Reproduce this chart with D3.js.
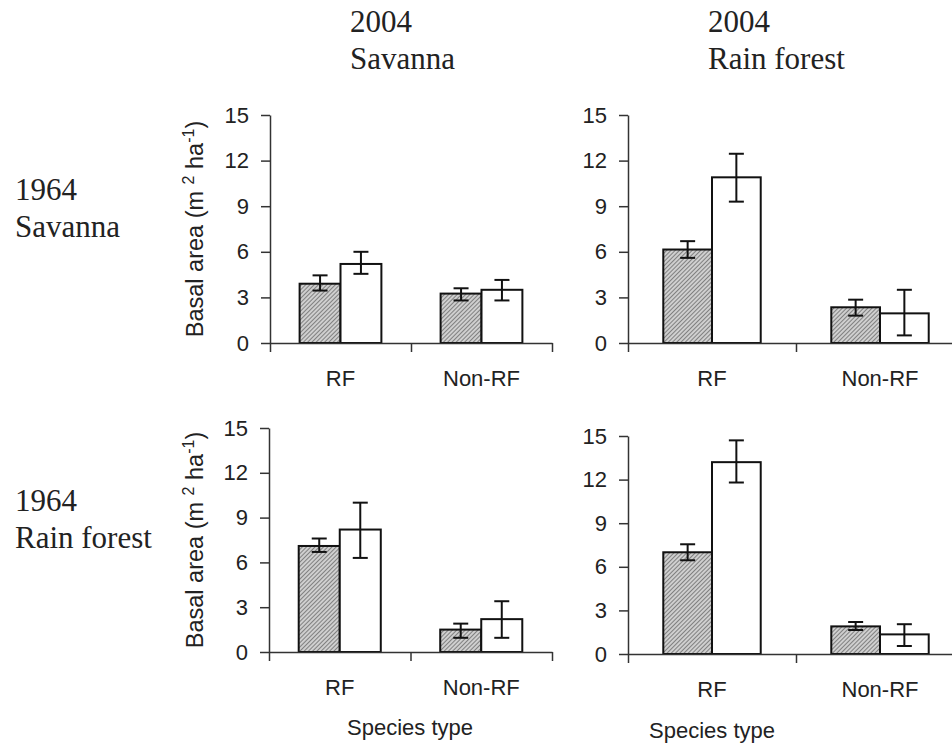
<!DOCTYPE html>
<html>
<head>
<meta charset="utf-8">
<script src="https://cdn.jsdelivr.net/npm/d3@7"></script>
<style>
  body { margin: 0; background: #fff; }
  .tick text { font-family: "Liberation Sans", Arial, sans-serif; font-size: 22px; fill: #222; }
  .tick line, .domain { stroke: #333; stroke-width: 1.5; }
  .serif { font-family: "Liberation Serif", "Times New Roman", serif; font-size: 31px; fill: #222; }
  .sans { font-family: "Liberation Sans", Arial, sans-serif; fill: #222; }
</style>
</head>
<body>
<div id="chart"></div>
<script>
var svgWidth = 952;
var svgHeight = 748;

// categories and the two bar series (shaded / open)
var categories = ["RF", "Non-RF"];
var series = ["shaded", "open"];
var yTicks = [0, 3, 6, 9, 12, 15];

var colTitles = [["2004", "Savanna"], ["2004", "Rain forest"]];
var rowTitles = [["1964", "Savanna"], ["1964", "Rain forest"]];

// values in order: RF shaded, RF open, Non-RF shaded, Non-RF open
// 1964 savanna -> 2004 savanna
var ssMean = [3.9, 5.2, 3.25, 3.5];
var ssLow = [3.45, 4.55, 2.8, 2.8];
var ssHigh = [4.45, 6.0, 3.6, 4.15];
// 1964 savanna -> 2004 rain forest
var srMean = [6.15, 10.9, 2.35, 1.95];
var srLow = [5.6, 9.3, 1.8, 0.5];
var srHigh = [6.7, 12.45, 2.85, 3.5];
// 1964 rain forest -> 2004 savanna
var rsMean = [7.1, 8.2, 1.5, 2.2];
var rsLow = [6.7, 6.3, 0.95, 0.95];
var rsHigh = [7.6, 10.0, 1.9, 3.4];
// 1964 rain forest -> 2004 rain forest
var rrMean = [7.0, 13.2, 1.9, 1.35];
var rrLow = [6.45, 11.8, 1.65, 0.55];
var rrHigh = [7.55, 14.7, 2.2, 2.05];

// panel frames (pixel boxes of each plot area)
var panels = [
  { mean: ssMean, low: ssLow, high: ssHigh, left: 270, right: 552, top: 115, bottom: 343, ylab: true },
  { mean: srMean, low: srLow, high: srHigh, left: 628, right: 964, top: 115, bottom: 343, ylab: false },
  { mean: rsMean, low: rsLow, high: rsHigh, left: 269, right: 552, top: 428, bottom: 652, ylab: true },
  { mean: rrMean, low: rrLow, high: rrHigh, left: 628, right: 964, top: 436, bottom: 654, ylab: false }
];

var svg = d3.select("#chart")
  .append("svg")
  .attr("width", svgWidth)
  .attr("height", svgHeight);

// hatch pattern for the shaded bars
var defs = svg.append("defs");
var hatch = defs.append("pattern")
  .attr("id", "hatch")
  .attr("patternUnits", "userSpaceOnUse")
  .attr("width", 3)
  .attr("height", 3)
  .attr("patternTransform", "rotate(45)");
hatch.append("rect")
  .attr("width", 3).attr("height", 3)
  .attr("fill", "#cfcfcf");
hatch.append("line")
  .attr("x1", 0).attr("y1", 0).attr("x2", 0).attr("y2", 3)
  .attr("stroke", "#555")
  .attr("stroke-width", 1.3);

function drawPanel(p) {
  var g = svg.append("g");

  var yScale = d3.scaleLinear()
    .domain([0, 15])
    .range([p.bottom, p.top]);

  var x0 = d3.scaleBand()
    .domain(categories)
    .range([p.left, p.right])
    .padding(0);

  var groupW = x0.bandwidth() * 0.58;
  var x1 = d3.scaleBand()
    .domain(series)
    .range([0, groupW])
    .padding(0);

  // bars
  var rows = [];
  categories.forEach(function(c, i) {
    series.forEach(function(s, j) {
      var k = i * series.length + j;
      rows.push({ cat: c, ser: s, mean: p.mean[k], low: p.low[k], high: p.high[k] });
    });
  });

  var offset = (x0.bandwidth() - groupW) / 2;

  g.selectAll("rect.bar")
    .data(rows)
    .enter()
    .append("rect")
    .attr("class", "bar")
    .attr("x", d => x0(d.cat) + offset + x1(d.ser))
    .attr("y", d => yScale(d.mean))
    .attr("width", x1.bandwidth())
    .attr("height", d => yScale(0) - yScale(d.mean))
    .attr("fill", d => d.ser === "shaded" ? "url(#hatch)" : "#fff")
    .attr("stroke", "#111")
    .attr("stroke-width", 2);

  // error bars
  var cap = 7.5;
  var eb = g.selectAll("g.err")
    .data(rows)
    .enter()
    .append("g")
    .attr("class", "err")
    .attr("stroke", "#111")
    .attr("stroke-width", 2);
  var cx = d => x0(d.cat) + offset + x1(d.ser) + x1.bandwidth() / 2;
  eb.append("line")
    .attr("x1", cx).attr("x2", cx)
    .attr("y1", d => yScale(d.low)).attr("y2", d => yScale(d.high));
  eb.append("line")
    .attr("x1", d => cx(d) - cap).attr("x2", d => cx(d) + cap)
    .attr("y1", d => yScale(d.high)).attr("y2", d => yScale(d.high));
  eb.append("line")
    .attr("x1", d => cx(d) - cap).attr("x2", d => cx(d) + cap)
    .attr("y1", d => yScale(d.low)).attr("y2", d => yScale(d.low));

  // y axis
  var leftAxis = d3.axisLeft(yScale)
    .tickValues(yTicks)
    .tickSize(9)
    .tickSizeOuter(0)
    .tickPadding(12);
  g.append("g")
    .attr("transform", `translate(${p.left}, 0)`)
    .call(leftAxis);

  // x axis: boundary ticks
  var xb = d3.scaleLinear()
    .domain([0, categories.length])
    .range([p.left, p.right]);
  g.append("g")
    .attr("transform", `translate(0, ${p.bottom})`)
    .call(d3.axisBottom(xb)
      .tickValues(d3.range(categories.length + 1))
      .tickFormat("")
      .tickSize(9)
      .tickSizeOuter(0));

  // category labels
  g.append("g")
    .attr("transform", `translate(0, ${p.bottom})`)
    .call(d3.axisBottom(x0).tickSize(0).tickPadding(27))
    .call(a => a.select(".domain").remove());

  // y label
  if (p.ylab) {
    var t = g.append("text")
      .attr("class", "sans")
      .attr("font-size", 23.5)
      .attr("text-anchor", "middle")
      .attr("transform", `translate(203, ${(p.top + p.bottom) / 2}) rotate(-90)`);
    t.append("tspan").text("Basal area (m ");
    t.append("tspan").attr("font-size", 16).attr("dy", -9).text("2");
    t.append("tspan").attr("dy", 9).text(" ha");
    t.append("tspan").attr("font-size", 16).attr("dy", -9).text("-1");
    t.append("tspan").attr("dy", 9).text(")");
  }
}

panels.forEach(drawPanel);

// column titles
var colX = [350, 708];
colTitles.forEach(function(lines, i) {
  lines.forEach(function(s, j) {
    svg.append("text")
      .attr("class", "serif")
      .attr("x", colX[i])
      .attr("y", 32 + j * 37)
      .text(s);
  });
});

// row titles
var rowY = [200, 511];
rowTitles.forEach(function(lines, i) {
  lines.forEach(function(s, j) {
    svg.append("text")
      .attr("class", "serif")
      .attr("x", 15)
      .attr("y", rowY[i] + j * 37)
      .text(s);
  });
});

// x axis titles
[[410, 735], [712, 738]].forEach(function(pos) {
  svg.append("text")
    .attr("class", "sans")
    .attr("font-size", 22)
    .attr("text-anchor", "middle")
    .attr("x", pos[0])
    .attr("y", pos[1])
    .text("Species type");
});
</script>
</body>
</html>
